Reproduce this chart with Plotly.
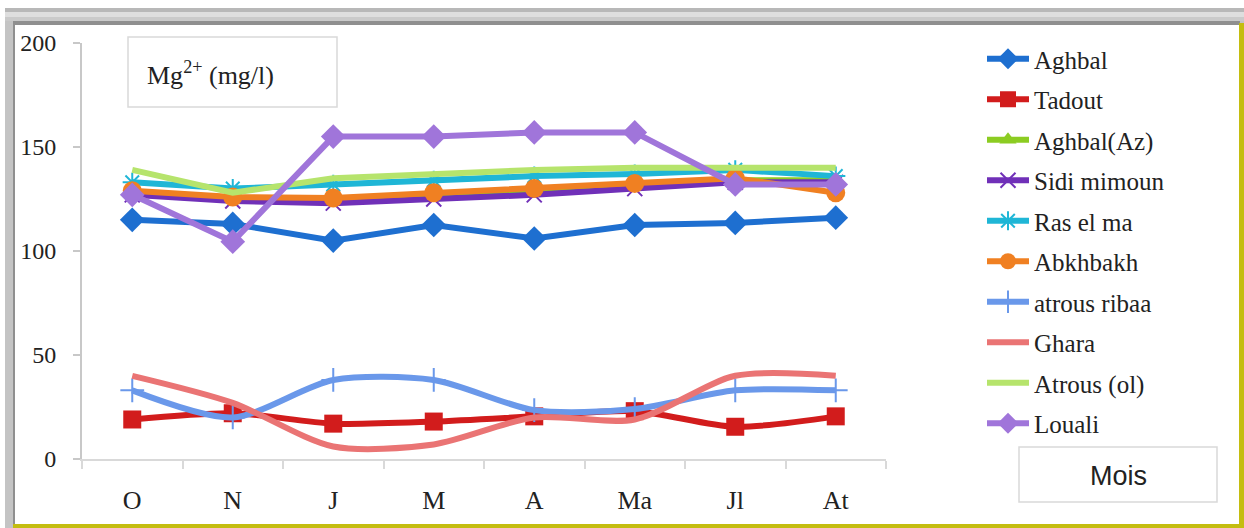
import plotly.graph_objects as go

months = ["O", "N", "J", "M", "A", "Ma", "Jl", "At"]

aghbal = [115, 113, 105, 112.5, 106, 112.5, 113.5, 116]
tadout = [19, 22, 17, 18, 20.5, 23, 15.5, 20.5]
aghbal_az = [128, 125, 124.5, 127, 129, 131.5, 134, 134]
sidi_mimoun = [127, 124, 123, 125, 127, 130, 133, 133]
ras_el_ma = [133, 130, 132, 134, 136, 137, 139, 136]
abkhbakh = [129, 126, 125.5, 128, 130, 132.5, 135, 128]
atrous_ribaa = [33, 20, 38, 38, 23.5, 24, 33, 33]
ghara = [40, 27, 6, 7, 20, 19, 40, 40]
atrous_ol = [139, 128, 135, 137, 139, 140, 140, 140]
louali = [127, 104.5, 155, 155, 157, 157, 132, 132]

SERIF = "Liberation Serif, Times New Roman, serif"

series = [
    ("Aghbal", aghbal, "#1e6fd0", dict(symbol="diamond", size=19), "linear"),
    ("Tadout", tadout, "#d21c1c", dict(symbol="square", size=18), "spline"),
    ("Aghbal(Az)", aghbal_az, "#8ccc22", dict(symbol="triangle-up", size=15), "linear"),
    ("Sidi mimoun", sidi_mimoun, "#7030b8", dict(symbol="x-thin-open", size=15, line=dict(width=2, color="#7030b8")), "linear"),
    ("Ras el ma", ras_el_ma, "#1fb6d6", dict(symbol="asterisk-open", size=16, line=dict(width=2, color="#1fb6d6")), "linear"),
    ("Abkhbakh", abkhbakh, "#f08022", dict(symbol="circle", size=19), "linear"),
    ("atrous ribaa", atrous_ribaa, "#6a98ea", dict(symbol="cross-thin-open", size=17, line=dict(width=2, color="#6a98ea")), "spline"),
    ("Ghara", ghara, "#ea7474", None, "spline"),
    ("Atrous (ol)", atrous_ol, "#b6e46c", None, "linear"),
    ("Louali", louali, "#a075da", dict(symbol="diamond", size=19), "linear"),
]

fig = go.Figure()
for i, (name, vals, color, marker, shape) in enumerate(series):
    kw = dict(mode="lines+markers", marker=dict(color=color, **marker)) if marker else dict(mode="lines")
    fig.add_trace(go.Scatter(
        x=months, y=vals, name=name, legendgroup=f"g{i}",
        line=dict(color=color, width=6, shape=shape, smoothing=0.8),
        **kw,
    ))

L, R, T, B = 82, 886, 43, 459
W, H = R - L, B - T


def px(x):
    return (x - L) / W


def py(y):
    return (B - y) / H


def rect(x0, y0, x1, y1, fill, line=None):
    return dict(type="rect", xref="paper", yref="paper", x0=px(x0), x1=px(x1), y0=py(y1), y1=py(y0),
                fillcolor=fill, line=line or dict(width=0), layer="below")


shapes = [
    rect(5, 8, 1244, 528, "#c4c4c4"),
    rect(5, 8, 1244, 12, "#b8b8b8"),
    rect(5, 12, 1244, 17, "#dedede"),
    rect(5, 17, 1244, 21, "#cacaca"),
    rect(13, 21, 1240, 524, "#8f8f8f"),
    rect(15, 25, 1240, 524, "#ffffff"),
    rect(1239, 23, 1244, 528, "#c4bd10"),
    rect(13, 524, 1244, 528, "#c4bd10"),
    dict(type="rect", xref="paper", yref="paper", x0=px(128), x1=px(337), y0=py(107), y1=py(37),
         fillcolor="white", line=dict(color="#d9d9d9", width=1.5), layer="above"),
    dict(type="rect", xref="paper", yref="paper", x0=px(1019), x1=px(1217), y0=py(502), y1=py(447),
         fillcolor="white", line=dict(color="#d9d9d9", width=1.5), layer="above"),
]

fig.update_layout(
    width=1244, height=528,
    margin=dict(l=L, r=1244 - R, t=T, b=528 - B, autoexpand=False),
    paper_bgcolor="white", plot_bgcolor="white",
    shapes=shapes,
    font=dict(family=SERIF, color="#222222"),
    showlegend=True,
    legend=dict(
        x=px(982), y=py(36), xanchor="left", yanchor="top",
        font=dict(family=SERIF, size=25, color="#222222"),
        tracegroupgap=5, itemwidth=42, bgcolor="rgba(0,0,0,0)", maxheight=520,
    ),
    xaxis=dict(
        type="category", range=[-0.5, 7.5], showgrid=False,
        showline=True, linecolor="#d9d9d9", linewidth=2,
        ticks="outside", tickson="boundaries", ticklen=8, tickcolor="#d9d9d9", tickwidth=2,
        tickfont=dict(family=SERIF, size=26, color="#222222"),
        ticklabelstandoff=17,
    ),
    yaxis=dict(
        range=[0, 200], tickvals=[0, 50, 100, 150, 200], showgrid=False, zeroline=False,
        showline=True, linecolor="#c8c8c8", linewidth=2,
        ticks="outside", ticklen=7, tickcolor="#c8c8c8", tickwidth=2,
        tickfont=dict(family=SERIF, size=24, color="#222222"),
        ticklabelstandoff=12,
    ),
    annotations=[
        dict(xref="paper", yref="paper", x=px(145), y=py(74), xanchor="left", yanchor="middle",
             text="Mg<sup>2+</sup> (mg/l)", showarrow=False, align="left",
             font=dict(family=SERIF, size=26, color="#222222")),
        dict(xref="paper", yref="paper", x=px(1118), y=py(476), xanchor="center", yanchor="middle",
             text="Mois", showarrow=False, align="center",
             font=dict(family="Liberation Sans, Arial, sans-serif", size=27, color="#222222")),
    ],
)

fig.write_html("out.html")
